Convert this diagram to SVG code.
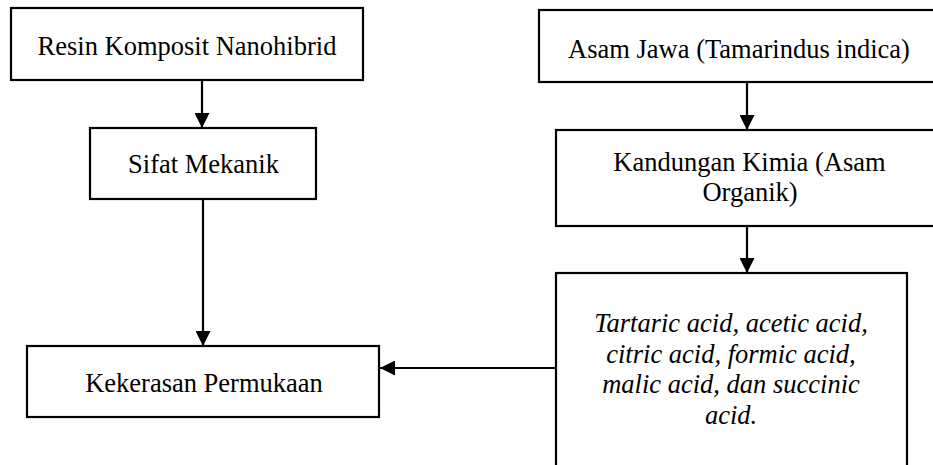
<svg xmlns="http://www.w3.org/2000/svg" width="933" height="465" viewBox="0 0 933 465">
  <defs>
    <style>
      .box { fill: #ffffff; stroke: #000000; stroke-width: 2.2; }
      .t { font-family: "Liberation Serif", "Times New Roman", serif; font-size: 26.5px; fill: #000000; text-anchor: middle; }
      .it { font-style: italic; }
      .conn { stroke: #000000; stroke-width: 2.2; fill: none; marker-end: url(#arrow); }
    </style>
    <marker id="arrow" markerUnits="userSpaceOnUse" markerWidth="15" markerHeight="15" viewBox="0 0 15 15" refX="15" refY="7.5" orient="auto">
      <path d="M0,0 L15,7.5 L0,15 Z" fill="#000000"/>
    </marker>
  </defs>
  <rect width="933" height="465" fill="#ffffff"/>

  <g id="connectors">
    <line class="conn" x1="202" y1="81" x2="202" y2="128"/>
    <line class="conn" x1="203" y1="199" x2="203" y2="346"/>
    <line class="conn" x1="747" y1="82" x2="747" y2="130"/>
    <line class="conn" x1="747" y1="226" x2="747" y2="273"/>
    <line class="conn" x1="556" y1="368" x2="380" y2="368"/>
  </g>

  <g id="resin">
    <rect class="box" x="11" y="8" width="352" height="72"/>
    <text class="t" x="187" y="55">Resin Komposit Nanohibrid</text>
  </g>

  <g id="asam-jawa">
    <rect class="box" x="539" y="10" width="396" height="72"/>
    <text class="t" x="739" y="58">Asam Jawa (Tamarindus indica)</text>
  </g>

  <g id="sifat">
    <rect class="box" x="90" y="128" width="226" height="71"/>
    <text class="t" x="203.5" y="173">Sifat Mekanik</text>
  </g>

  <g id="kandungan">
    <rect class="box" x="556" y="130" width="379" height="96"/>
    <text class="t" x="749.5" y="171">Kandungan Kimia (Asam</text>
    <text class="t" x="750" y="201">Organik)</text>
  </g>

  <g id="acids">
    <rect class="box" x="556" y="273" width="351" height="200"/>
    <text class="t it" x="731" y="332">Tartaric acid, acetic acid,</text>
    <text class="t it" x="731" y="363">citric acid, formic acid,</text>
    <text class="t it" x="731" y="393">malic acid, dan succinic</text>
    <text class="t it" x="731" y="424">acid.</text>
  </g>

  <g id="kekerasan">
    <rect class="box" x="27" y="346" width="352" height="71"/>
    <text class="t" x="204" y="392">Kekerasan Permukaan</text>
  </g>
</svg>
